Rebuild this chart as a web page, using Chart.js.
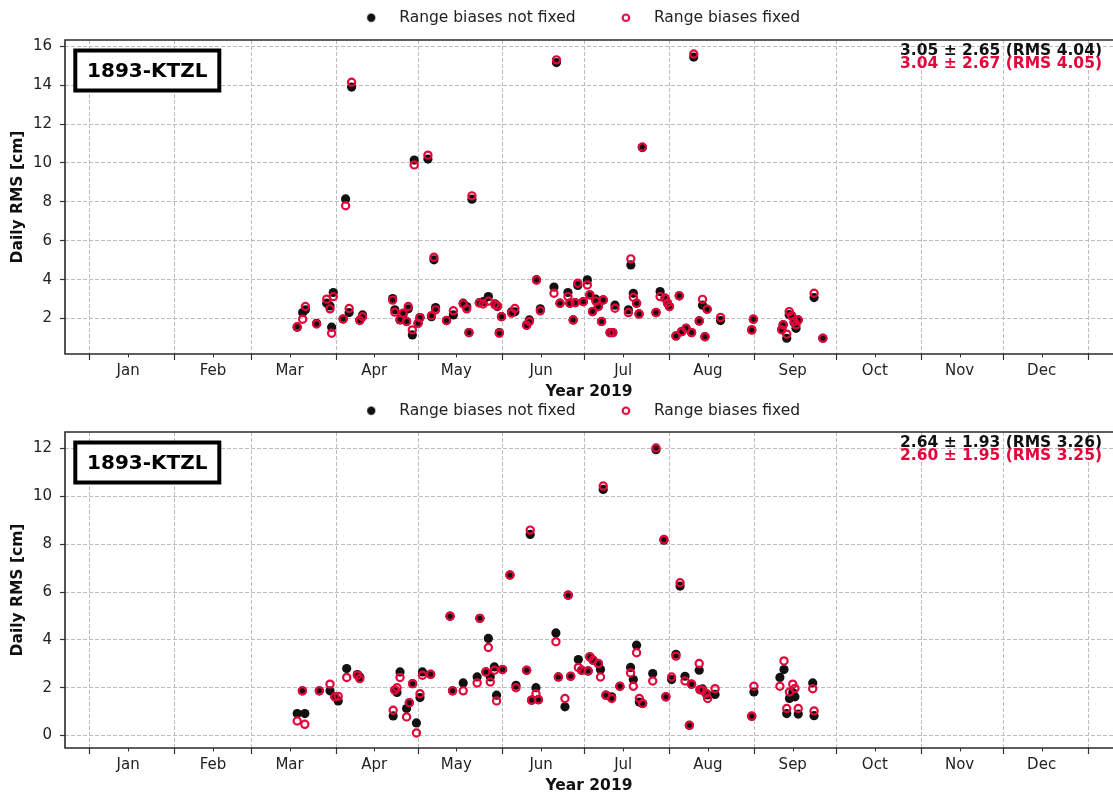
<!DOCTYPE html>
<html>
<head>
<meta charset="utf-8">
<script src="https://cdn.jsdelivr.net/npm/chart.js@4.4.1/dist/chart.umd.min.js"></script>
<style>
  html, body { margin: 0; padding: 0; background: #fff; overflow: hidden; }
  #wrap { position: relative; width: 1113px; height: 794px; }
  canvas { position: absolute; left: 0; }
  #topChart { top: 0; }
  #bottomChart { top: 393px; }
</style>
</head>
<body>
<div id="wrap">
  <canvas id="topChart" width="1113" height="400"></canvas>
  <canvas id="bottomChart" width="1113" height="401"></canvas>
</div>
<script>
// day of year 2019 (0 = Jan 1)
const stationName = '1893-KTZL';
const seriesLabels = ['Range biases not fixed', 'Range biases fixed'];
const seriesColors = ['#111111', '#e5053a'];
const monthNames = ['Jan', 'Feb', 'Mar', 'Apr', 'May', 'Jun', 'Jul', 'Aug', 'Sep', 'Oct', 'Nov', 'Dec'];
const monthStartDays = [0, 31, 59, 90, 120, 151, 181, 212, 243, 273, 304, 334, 365];
const midMonthDays = [14, 45, 73, 104, 134, 165, 195, 226, 257, 287, 318, 348];
const xRange = [-9.1, 374.1];

// top panel
const topDays = [75.8, 77.8, 78.8, 82.9, 86.6, 87.8, 88.4, 89.0, 92.6, 93.5,
  94.8, 95.7, 98.7, 99.7, 110.7, 111.5, 113.4, 114.5, 115.8, 116.4,
  117.9, 118.6, 120.0, 120.7, 123.6, 124.9, 125.8, 126.4, 130.4, 132.9,
  136.5, 137.8, 138.6, 139.7, 142.4, 143.8, 145.7, 148.1, 149.0, 149.7,
  150.5, 154.2, 155.4, 159.7, 160.7, 163.3, 164.7, 169.7, 170.6, 171.9,
  174.8, 175.5, 176.7, 177.4, 178.4, 180.4, 181.9, 182.8, 183.8, 185.0,
  185.9, 187.1, 187.7, 190.2, 191.2, 192.0, 196.9, 197.8, 198.7, 199.9,
  200.8, 202.0, 207.0, 208.5, 210.3, 211.2, 211.9, 214.3, 215.5, 216.4,
  218.0, 220.0, 220.8, 222.8, 224.0, 224.9, 225.7, 230.6, 242.0, 242.6,
  253.0, 253.5, 254.8, 255.7, 256.6, 257.5, 258.2, 259.0, 264.8, 268.0];
const topNotFixed = [1.56, 2.31, 2.45, 1.76, 2.79, 2.65, 1.56, 3.34, 1.98, 8.15,
  2.31, 13.9, 1.93, 2.19, 3.03, 2.45, 1.93, 2.2, 1.85, 2.5,
  1.16, 10.15, 1.76, 2.05, 10.2, 2.1, 5.02, 2.57, 1.9, 2.19,
  2.79, 2.62, 1.28, 8.14, 2.82, 2.87, 3.13, 2.76, 2.62, 1.28,
  2.1, 2.35, 2.35, 1.68, 1.93, 4.0, 2.5, 3.62, 15.16, 2.79,
  3.34, 2.79, 1.93, 2.82, 3.7, 2.87, 3.99, 3.22, 2.36, 3.0,
  2.62, 1.85, 2.96, 1.28, 1.28, 2.69, 2.45, 4.76, 3.3, 2.79,
  2.24, 10.79, 2.31, 3.39, 3.05, 2.8, 2.62, 1.11, 3.17, 1.33,
  1.5, 1.28, 15.44, 1.88, 2.69, 1.07, 2.48, 1.9, 1.42, 1.97,
  1.45, 1.68, 0.99, 2.2, 2.14, 1.8, 1.5, 1.93, 3.08, 0.99];
const topFixed = [1.58, 1.97, 2.62, 1.72, 3.0, 2.5, 1.25, 3.13, 1.98, 7.8,
  2.52, 14.15, 1.9, 2.1, 2.95, 2.33, 1.95, 2.28, 1.85, 2.62,
  1.42, 9.9, 1.76, 2.05, 10.4, 2.15, 5.15, 2.45, 1.9, 2.4,
  2.75, 2.5, 1.28, 8.31, 2.8, 2.75, 2.9, 2.72, 2.65, 1.25,
  2.1, 2.28, 2.52, 1.65, 1.85, 3.98, 2.4, 3.3, 15.3, 2.79,
  3.13, 2.79, 1.93, 2.82, 3.82, 2.87, 3.73, 3.22, 2.36, 2.9,
  2.62, 1.85, 2.96, 1.28, 1.28, 2.53, 2.31, 5.07, 3.1, 2.79,
  2.24, 10.82, 2.31, 3.13, 3.05, 2.8, 2.62, 1.11, 3.17, 1.33,
  1.5, 1.28, 15.6, 1.88, 2.99, 1.07, 2.48, 2.06, 1.42, 1.97,
  1.42, 1.68, 1.2, 2.36, 2.14, 1.85, 1.68, 1.93, 3.3, 0.99];
const topYTicks = [2, 4, 6, 8, 10, 12, 14, 16];
const topYRange = [0.18, 16.32];
const topStats = ['3.05 \u00b1 2.65 (RMS 4.04)', '3.04 \u00b1 2.67 (RMS 4.05)'];

// bottom panel
const bottomDays = [75.8, 77.7, 78.6, 83.9, 87.8, 89.6, 90.8, 93.9, 97.8, 98.7,
  110.9, 111.5, 112.3, 113.4, 115.8, 116.8, 118.0, 119.4, 120.7, 121.6,
  124.6, 131.7, 132.6, 136.5, 141.6, 142.6, 144.8, 145.7, 146.4, 147.9,
  148.7, 150.9, 153.6, 155.8, 159.7, 161.0, 161.5, 163.1, 164.0, 170.4,
  171.3, 173.7, 174.9, 175.8, 178.6, 179.8, 182.2, 182.8, 184.0, 185.9,
  186.7, 187.7, 188.7, 190.8, 193.8, 197.7, 198.7, 199.9, 200.9, 202.1,
  205.8, 207.0, 209.9, 210.6, 212.7, 214.3, 215.8, 217.6, 219.2, 220.0,
  222.8, 223.1, 224.0, 225.3, 225.9, 228.6, 242.0, 242.8, 252.3, 253.8,
  254.8, 255.8, 257.0, 257.8, 259.0, 264.3, 264.8];
const bottomNotFixed = [0.92, 1.87, 0.92, 1.87, 1.87, 1.62, 1.45, 2.8, 2.55, 2.45,
  0.82, 1.9, 1.8, 2.66, 1.13, 1.37, 2.17, 0.53, 1.59, 2.66,
  2.56, 4.99, 1.87, 2.2, 2.45, 4.9, 2.66, 4.06, 2.45, 2.87,
  1.69, 2.76, 6.71, 2.1, 2.73, 8.41, 1.48, 2.0, 1.5, 4.29,
  2.45, 1.2, 5.87, 2.48, 3.18, 2.73, 2.7, 3.29, 3.15, 3.01,
  2.76, 10.29, 1.69, 1.62, 2.06, 2.85, 2.34, 3.78, 1.4, 1.34,
  2.59, 11.95, 8.17, 1.62, 2.34, 3.4, 6.25, 2.48, 0.43, 2.15,
  2.73, 1.92, 1.95, 1.76, 1.7, 1.72, 0.81, 1.82, 2.43, 2.76,
  0.92, 1.55, 1.8, 1.62, 0.9, 2.2, 0.83];
const bottomFixed = [0.61, 1.87, 0.47, 1.87, 2.15, 1.62, 1.64, 2.43, 2.52, 2.38,
  1.06, 1.9, 2.0, 2.43, 0.78, 1.37, 2.17, 0.11, 1.75, 2.52,
  2.56, 4.99, 1.87, 1.87, 2.2, 4.9, 2.66, 3.68, 2.24, 2.73,
  1.45, 2.76, 6.71, 2.0, 2.73, 8.59, 1.48, 1.75, 1.5, 3.92,
  2.45, 1.55, 5.87, 2.48, 2.85, 2.73, 2.7, 3.29, 3.15, 3.01,
  2.45, 10.43, 1.69, 1.55, 2.06, 2.62, 2.06, 3.46, 1.55, 1.34,
  2.28, 12.02, 8.2, 1.62, 2.45, 3.32, 6.39, 2.28, 0.43, 2.15,
  3.01, 1.92, 1.9, 1.76, 1.55, 1.96, 0.81, 2.06, 2.06, 3.12,
  1.13, 1.82, 2.15, 1.97, 1.13, 1.96, 1.03];
const bottomYTicks = [0, 2, 4, 6, 8, 10, 12];
const bottomYRange = [-0.52, 12.69];
const bottomStats = ['2.64 \u00b1 1.93 (RMS 3.26)', '2.60 \u00b1 1.95 (RMS 3.25)'];

Chart.defaults.font.family = "'DejaVu Sans', sans-serif";
Chart.defaults.color = '#222';

// month starts carry the grid, mid-months carry the labels
const xTickDays = monthStartDays.concat(midMonthDays).sort((a, b) => a - b);
const xTickLabels = xTickDays.map(d => {
  const k = midMonthDays.indexOf(d);
  return k >= 0 ? monthNames[k] : '';
});
const xTickIsStart = xTickDays.map(d => monthStartDays.includes(d));

function legendIcon(i) {
  const c = document.createElement('canvas');
  c.width = 32;
  c.height = 12;
  const g = c.getContext('2d');
  g.beginPath();
  if (i === 0) {
    g.arc(26, 6, 4.2, 0, Math.PI * 2);
    g.fillStyle = seriesColors[0];
    g.fill();
  } else {
    g.arc(26, 6, 3.3, 0, Math.PI * 2);
    g.lineWidth = 2.1;
    g.strokeStyle = seriesColors[1];
    g.stroke();
  }
  return c;
}
const legendIcons = [legendIcon(0), legendIcon(1)];

// extra room under the legend and a small sideways nudge
const legendSpacing = {
  id: 'legendSpacing',
  beforeLayout(chart, args, opts) {
    const lg = chart.legend;
    if (!lg || lg._spacingPatched) return;
    const fit = lg.fit;
    lg.fit = function () {
      fit.call(this);
      this.height += opts.gap;
      if (this.lineWidths && this.lineWidths.length) this.lineWidths[0] -= 2 * opts.shift;
    };
    lg._spacingPatched = true;
  }
};

// frame (right side runs off the picture), minor ticks, station box, stats text
const panelDecor = {
  id: 'panelDecor',
  afterDraw(chart, args, opts) {
    const { ctx, chartArea: a } = chart;
    const xs = chart.scales.x;
    ctx.save();
    ctx.strokeStyle = '#333';
    ctx.lineWidth = 1;
    midMonthDays.forEach(d => {
      const px = Math.round(xs.getPixelForValue(d)) + 0.5;
      ctx.beginPath();
      ctx.moveTo(px, a.bottom);
      ctx.lineTo(px, a.bottom + 3.5);
      ctx.stroke();
    });
    ctx.lineWidth = 1.6;
    ctx.strokeStyle = '#2a2a2a';
    ctx.beginPath();
    ctx.moveTo(a.right + 2, a.top);
    ctx.lineTo(a.left, a.top);
    ctx.lineTo(a.left, a.bottom);
    ctx.lineTo(a.right + 2, a.bottom);
    ctx.stroke();

    const bx = a.left + 10.3, by = a.top + 10.5, bw = 144, bh = 40;
    ctx.fillStyle = '#fff';
    ctx.fillRect(bx, by, bw, bh);
    ctx.lineWidth = 4;
    ctx.strokeStyle = '#000';
    ctx.strokeRect(bx, by, bw, bh);
    ctx.fillStyle = '#000';
    ctx.font = "bold 20px 'DejaVu Sans'";
    ctx.textAlign = 'center';
    ctx.textBaseline = 'middle';
    ctx.fillText(stationName, bx + bw / 2, by + bh / 2 + 1);

    ctx.font = "bold 15.5px 'DejaVu Sans'";
    ctx.textAlign = 'right';
    opts.stats.forEach((s, i) => {
      ctx.fillStyle = seriesColors[i];
      ctx.fillText(s, a.right - 11, a.top + 10.5 + i * 13.5);
    });
    ctx.restore();
  }
};

function toPoints(days, vals) {
  return days.map((d, i) => ({ x: d, y: vals[i] }));
}

function makePanel(canvasId, days, notFixed, fixed, yRange, yTicks, stats, gap) {
  return new Chart(document.getElementById(canvasId), {
    type: 'scatter',
    data: {
      datasets: [{
        label: seriesLabels[0],
        data: toPoints(days, notFixed),
        pointRadius: 4.6,
        pointBackgroundColor: seriesColors[0],
        pointBorderWidth: 0,
        order: 1
      }, {
        label: seriesLabels[1],
        data: toPoints(days, fixed),
        pointRadius: 3.6,
        pointBackgroundColor: 'rgba(0,0,0,0)',
        pointBorderColor: seriesColors[1],
        pointBorderWidth: 2.2,
        order: 0
      }]
    },
    options: {
      responsive: false,
      animation: false,
      events: [],
      layout: { padding: 0, autoPadding: false },
      scales: {
        x: {
          type: 'linear',
          min: xRange[0],
          max: xRange[1],
          afterBuildTicks: s => { s.ticks = xTickDays.map(v => ({ value: v })); },
          afterFit: s => { s.height = 46; s.paddingLeft = 0; s.paddingRight = 0; },
          ticks: {
            autoSkip: false,
            maxRotation: 0,
            padding: 2,
            font: { size: 15 },
            color: '#222',
            callback: (v, i) => xTickLabels[i]
          },
          grid: {
            color: c => (xTickIsStart[c.index] ? '#bdbdbd' : 'rgba(0,0,0,0)'),
            lineWidth: 1,
            tickLength: 6,
            tickWidth: 1.2,
            tickColor: c => (xTickIsStart[c.index] ? '#333' : 'rgba(0,0,0,0)'),
            tickBorderDash: []
          },
          border: { display: false, dash: [4, 2] },
          title: {
            display: true,
            text: 'Year 2019',
            color: '#111',
            font: { size: 15.5, weight: 'bold', lineHeight: 1 },
            padding: 0
          }
        },
        y: {
          min: yRange[0],
          max: yRange[1],
          afterBuildTicks: s => { s.ticks = yTicks.map(v => ({ value: v })); },
          afterFit: s => { s.width = 65; s.paddingTop = 0; s.paddingBottom = 0; },
          ticks: {
            padding: 8,
            font: { size: 15 },
            color: '#222',
            callback: v => String(v)
          },
          grid: {
            color: '#bdbdbd',
            lineWidth: 1,
            tickLength: 5,
            tickWidth: 1.2,
            tickColor: '#333',
            tickBorderDash: []
          },
          border: { display: false, dash: [4, 2] },
          title: {
            display: true,
            text: 'Daily RMS [cm]',
            color: '#111',
            font: { size: 15.5, weight: 'bold', lineHeight: 1.2 },
            padding: { top: 8.7, bottom: 0 }
          }
        }
      },
      plugins: {
        legend: {
          display: true,
          position: 'top',
          align: 'center',
          onClick: () => {},
          labels: {
            usePointStyle: true,
            pointStyleWidth: 60.5,
            padding: 10,
            font: { size: 15.5 },
            color: '#222',
            generateLabels: chart => chart.data.datasets.map((ds, i) => ({
              text: ds.label,
              pointStyle: legendIcons[i],
              datasetIndex: i,
              hidden: false,
              fillStyle: 'rgba(0,0,0,0)',
              strokeStyle: 'rgba(0,0,0,0)',
              lineWidth: 0,
              fontColor: '#222'
            }))
          }
        },
        tooltip: { enabled: false },
        legendSpacing: { gap: gap, shift: 9 },
        panelDecor: { stats: stats }
      }
    },
    plugins: [legendSpacing, panelDecor]
  });
}

makePanel('topChart', topDays, topNotFixed, topFixed, topYRange, topYTicks, topStats, 4.5);
makePanel('bottomChart', bottomDays, bottomNotFixed, bottomFixed, bottomYRange, bottomYTicks, bottomStats, 3.5);
</script>
</body>
</html>
